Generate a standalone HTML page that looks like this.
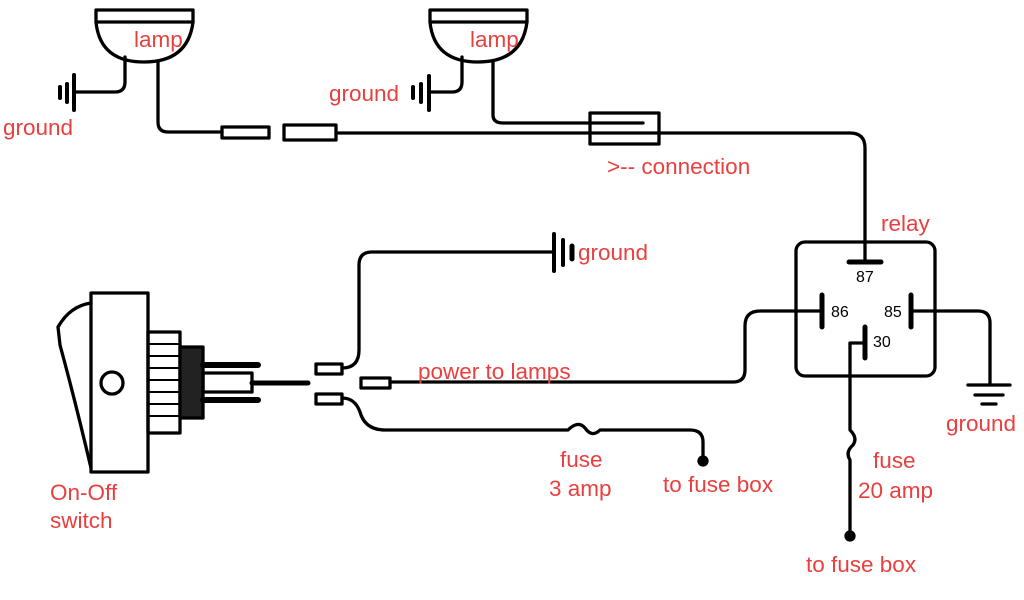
<!DOCTYPE html>
<html><head><meta charset="utf-8"><style>
html,body{margin:0;padding:0;background:#fff;}
svg{display:block;}
text{font-family:"Liberation Sans",Arial,sans-serif;font-size:22.5px;fill:#e8403f;}
</style></head><body>
<svg width="1024" height="600" viewBox="0 0 1024 600" xmlns="http://www.w3.org/2000/svg">
<g fill="none" stroke="#000" stroke-width="3.3" stroke-linecap="round" stroke-linejoin="round">
<!-- lamp 1 -->
<rect x="96" y="10" width="97" height="12"/>
<path d="M96 22 Q100 62 144 62 Q188 62 193 22"/>
<path d="M125 57 V82 Q125 92 115 92 H74"/>
<path d="M74 75 V110 M67 84 V102 M60 87 V98" stroke-width="4"/>
<path d="M158 62 V122 Q158 132 168 132 H222"/>
<rect x="222" y="127" width="47" height="11"/>
<rect x="284" y="125" width="52" height="15"/>
<path d="M336 133 H850 Q865 133 865 148 V262"/>
<!-- lamp 2 -->
<rect x="430" y="10" width="97" height="12"/>
<path d="M430 22 Q434 62 478 62 Q522 62 527 22"/>
<path d="M462 57 V82 Q462 92 452 92 H430"/>
<path d="M429 76 V110 M421 84 V102 M413 87 V98" stroke-width="4"/>
<path d="M493 62 V115 Q493 123 503 123 H643"/>
<rect x="590" y="113" width="69" height="31"/>
<!-- relay -->
<rect x="796" y="242" width="139" height="134" rx="9"/>
<path d="M849 262 H881" stroke-width="5"/>
<path d="M822 295 V327 M911 295 V327 M865 327 V358" stroke-width="5"/>
<path d="M822 311 H760 Q745 311 745 326 V370 Q745 382 733 382 H390"/>
<path d="M911 311 H978 Q990 311 990 323 V385"/>
<path d="M968 385 H1010 M975 395 H1003 M982 404 H996"/>
<path d="M865 343 H850 V430 Q858 438 853 445 Q845 452 850 460 V535"/>
<circle cx="850" cy="536" r="4" fill="#000"/>
<!-- switch -->
<rect x="91" y="293" width="57" height="179"/>
<path d="M91 303 Q70 306 58 327 L60 345 Q75 400 91 468"/>
<circle cx="112" cy="383" r="11"/>
<rect x="148" y="332" width="32" height="101"/>
<path d="M148 344 H180 M148 356 H180 M148 368 H180 M148 380 H180 M148 392 H180 M148 404 H180 M148 416 H180" stroke-width="2"/>
<rect x="180" y="347" width="23" height="71" fill="#222"/>
<path d="M203 365 H258 M203 400 H258" stroke-width="6"/>
<rect x="203" y="373" width="49" height="19"/>
<path d="M252 383 H308" stroke-width="5"/>
<rect x="316" y="364" width="26" height="10"/>
<rect x="316" y="394" width="26" height="10"/>
<rect x="361" y="378" width="29" height="10"/>
<path d="M342 368 Q359 368 359 350 V265 Q359 252 372 252 H553"/>
<path d="M554 234 V271 M563 240 V265" stroke-width="4"/>
<path d="M572 246 V259" stroke-width="5"/>
<path d="M342 398 Q355 398 360 412 Q365 430 385 430 H568 Q578 420 585 428 Q592 438 600 430 H690 Q703 430 703 442 V460"/>
<circle cx="703" cy="461" r="4" fill="#000"/>
</g>
<text x="134" y="47">lamp</text>
<text x="470" y="47">lamp</text>
<text x="3" y="135">ground</text>
<text x="329" y="101">ground</text>
<text x="607" y="174">&gt;-- connection</text>
<text x="881" y="231">relay</text>
<text x="578" y="260">ground</text>
<text x="418" y="379">power to lamps</text>
<text x="946" y="431">ground</text>
<text x="560" y="467">fuse</text>
<text x="549" y="496">3 amp</text>
<text x="663" y="492">to fuse box</text>
<text x="873" y="468">fuse</text>
<text x="858" y="498">20 amp</text>
<text x="806" y="572">to fuse box</text>
<text x="50" y="500">On-Off</text>
<text x="50" y="528">switch</text>
<text x="856" y="282" style="fill:#000;font-size:16px">87</text>
<text x="831" y="317" style="fill:#000;font-size:16px">86</text>
<text x="884" y="317" style="fill:#000;font-size:16px">85</text>
<text x="873" y="347" style="fill:#000;font-size:16px">30</text>
</svg>
</body></html>
